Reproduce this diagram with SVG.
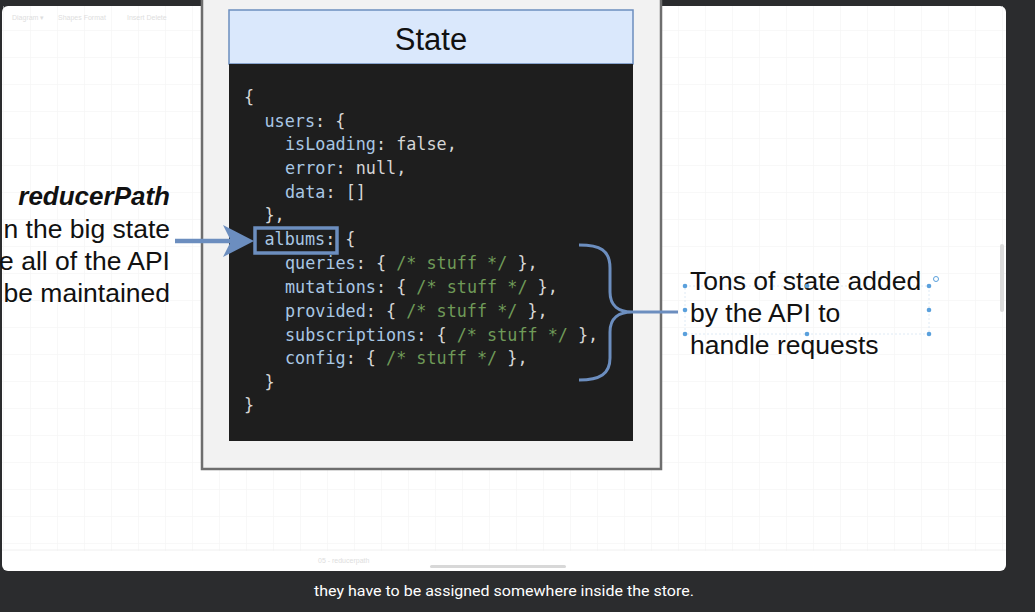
<svg xmlns="http://www.w3.org/2000/svg" width="1035" height="612" viewBox="0 0 1035 612">
  <defs>
    <pattern id="grid" x="3" y="3" width="27" height="27" patternUnits="userSpaceOnUse">
      <path d="M27 0 L0 0 0 27" fill="none" stroke="#f2f2f2" stroke-width="1"/>
    </pattern>
    <style>
      .sans { font-family: "Liberation Sans", Arial, Helvetica, sans-serif; fill: #111; }
      .code { font-family: "DejaVu Sans Mono", "Liberation Mono", monospace; font-size: 16.8px; white-space: pre; }
      .k { fill: #a9c7e4; }
      .p { fill: #d6d6d6; }
      .c { fill: #6f9a58; }
      .ui { font-family: "Liberation Sans", Arial, sans-serif; font-size: 7px; fill: #dedede; }
      .blue { stroke: #6c8ebf; fill: none; }
      .handle { fill: #5aa0dc; }
    </style>
  </defs>

  <!-- page background -->
  <rect x="0" y="0" width="1035" height="612" fill="#2b2c2e"/>
  <!-- video frame -->
  <rect x="2" y="6" width="1004" height="565" rx="6" fill="#ffffff"/>
  <rect x="2" y="6" width="1004" height="545" fill="url(#grid)"/>
  <!-- page scrollbar -->
  <rect x="1000" y="244" width="4" height="68" rx="2" fill="#dcdcdc"/>

  <!-- faint editor toolbar -->
  <g id="toolbar">
    <text class="ui" x="12" y="20">Diagram ▾</text>
    <text class="ui" x="58" y="20">Shapes  Format</text>
    <text class="ui" x="127" y="20">Insert  Delete</text>
    <text class="ui" x="292" y="20">All changes saved</text>
  </g>

  <!-- faint bottom tab bar -->
  <g id="tabbar">
    <line x1="2" y1="550" x2="1006" y2="550" stroke="#f0f0f0" stroke-width="1"/>
    <text class="ui" x="318" y="563" fill="#cfcfcf">05 - reducerpath</text>
    <rect x="430" y="565" width="136" height="3" rx="1.5" fill="#d8d8d8"/>
  </g>

  <!-- State container -->
  <g id="state-container">
    <rect x="202" y="-4" width="459" height="473" fill="#f2f2f2" stroke="#6e6e6e" stroke-width="2.5"/>
  </g>

  <g id="state-header">
    <rect x="229" y="10" width="404" height="54" fill="#dae8fc" stroke="#6c8ebf" stroke-width="1.5"/>
    <text class="sans" x="431" y="50" font-size="31" text-anchor="middle">State</text>
  </g>

  <g id="state-code">
    <rect x="229" y="64" width="404" height="377" fill="#1e1e1e"/>
    <text class="code" xml:space="preserve">
      <tspan x="244" y="103" class="p">{</tspan>
      <tspan x="264.5" y="127"><tspan class="k">users</tspan><tspan class="p">: {</tspan></tspan>
      <tspan x="285" y="150"><tspan class="k">isLoading</tspan><tspan class="p">: false,</tspan></tspan>
      <tspan x="285" y="174"><tspan class="k">error</tspan><tspan class="p">: null,</tspan></tspan>
      <tspan x="285" y="198"><tspan class="k">data</tspan><tspan class="p">: []</tspan></tspan>
      <tspan x="264.5" y="221" class="p">},</tspan>
      <tspan x="264.5" y="245"><tspan class="k">albums</tspan><tspan class="p">: {</tspan></tspan>
      <tspan x="285" y="269"><tspan class="k">queries</tspan><tspan class="p">: { </tspan><tspan class="c">/* stuff */</tspan><tspan class="p"> },</tspan></tspan>
      <tspan x="285" y="293"><tspan class="k">mutations</tspan><tspan class="p">: { </tspan><tspan class="c">/* stuff */</tspan><tspan class="p"> },</tspan></tspan>
      <tspan x="285" y="317"><tspan class="k">provided</tspan><tspan class="p">: { </tspan><tspan class="c">/* stuff */</tspan><tspan class="p"> },</tspan></tspan>
      <tspan x="285" y="341"><tspan class="k">subscriptions</tspan><tspan class="p">: { </tspan><tspan class="c">/* stuff */</tspan><tspan class="p"> },</tspan></tspan>
      <tspan x="285" y="364"><tspan class="k">config</tspan><tspan class="p">: { </tspan><tspan class="c">/* stuff */</tspan><tspan class="p"> },</tspan></tspan>
      <tspan x="264.5" y="388" class="p">}</tspan>
      <tspan x="244" y="411" class="p">}</tspan>
    </text>
  </g>

  <!-- highlight box around albums -->
  <g id="albums-highlight">
    <rect x="255" y="228" width="82" height="25" class="blue" stroke-width="3.5"/>
  </g>

  <!-- left label -->
  <g id="reducerpath-label">
    <text class="sans" x="170" y="205" font-size="26" font-weight="bold" font-style="italic" text-anchor="end">reducerPath</text>
    <text class="sans" x="170" y="238" font-size="26.5" text-anchor="end">n the big state</text>
    <text class="sans" x="170" y="270" font-size="26.5" text-anchor="end">e all of the API</text>
    <text class="sans" x="170" y="302" font-size="26.5" text-anchor="end">be maintained</text>
  </g>

  <!-- right label -->
  <g id="tons-label">
    <rect x="685" y="286" width="244" height="48" fill="none" stroke="#d6e4f2" stroke-width="0.8" stroke-dasharray="2 2"/>
    <text class="sans" x="690" y="290" font-size="26.5">Tons of state added</text>
    <text class="sans" x="690" y="322" font-size="26.5">by the API to</text>
    <text class="sans" x="690" y="354" font-size="26.5">handle requests</text>
    <circle class="handle" cx="685" cy="286" r="2.3"/>
    <circle class="handle" cx="807" cy="286" r="2.3"/>
    <circle class="handle" cx="929" cy="286" r="2.3"/>
    <circle class="handle" cx="685" cy="310" r="2.3"/>
    <circle class="handle" cx="929" cy="310" r="2.3"/>
    <circle class="handle" cx="685" cy="334" r="2.3"/>
    <circle class="handle" cx="807" cy="334" r="2.3"/>
    <circle class="handle" cx="929" cy="334" r="2.3"/>
    <circle cx="936" cy="279" r="2.5" fill="none" stroke="#5aa0dc" stroke-width="1"/>
  </g>

  <!-- connectors -->
  <g id="connectors">
    <line x1="175" y1="241" x2="232" y2="241" stroke="#6c8ebf" stroke-width="4.5"/>
    <polygon points="254,241 223,225 231,241 223,257" fill="#6c8ebf"/>
    <path class="blue" stroke-width="3" d="M579,245 C600,245 610,250 610,268 L610,292 C610,306 619,312 632,312 C619,312 610,318 610,332 L610,358 C610,374 600,380 579,380"/>
    <line class="blue" stroke-width="3" x1="632" y1="312" x2="678" y2="312"/>
  </g>

  <!-- caption -->
  <text x="504" y="596" font-family="Roboto, 'Liberation Sans', sans-serif" font-size="15" fill="#ffffff" text-anchor="middle" textLength="380" lengthAdjust="spacingAndGlyphs">they have to be assigned somewhere inside the store.</text>
</svg>
